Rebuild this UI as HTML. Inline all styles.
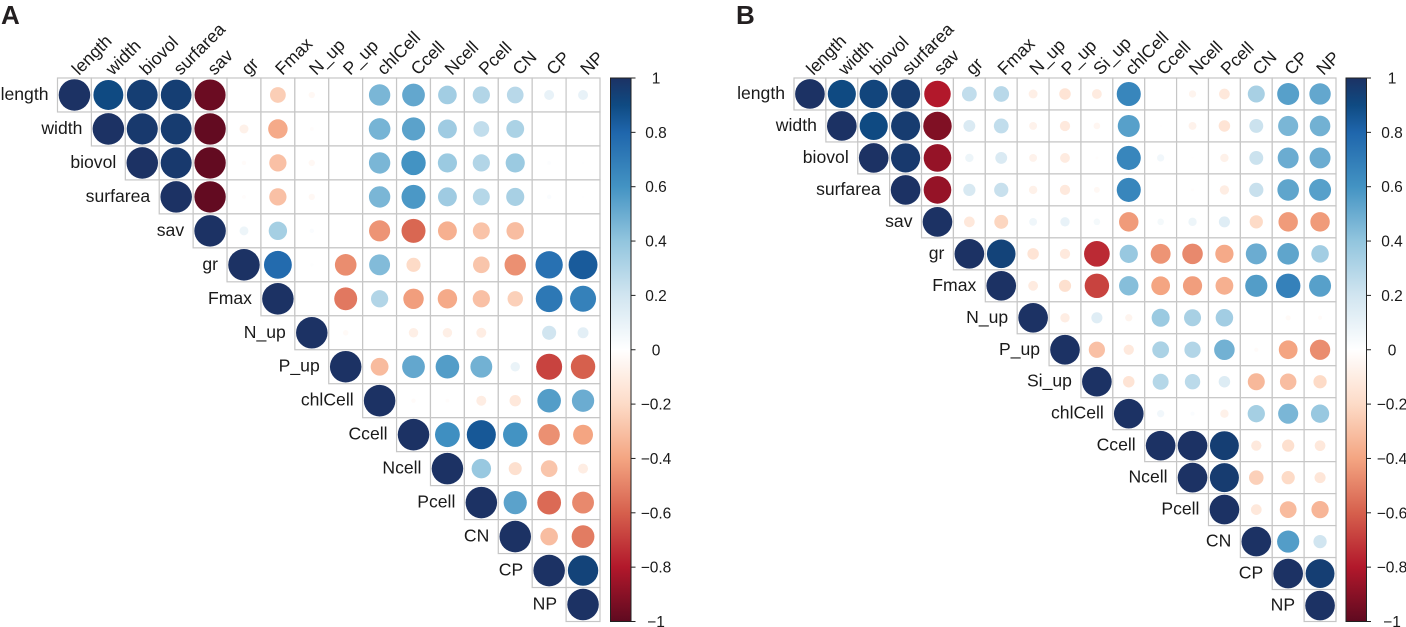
<!DOCTYPE html>
<html lang="en">
<head>
<meta charset="utf-8">
<title>Correlation matrices A and B</title>
<style>
html,body{margin:0;padding:0;background:#fff;}
body{width:1406px;height:627px;overflow:hidden;}
svg{display:block;font-family:"Liberation Sans",Arial,sans-serif;}
</style>
</head>
<body>
<svg id="chart" width="1406" height="627" viewBox="0 0 1406 627" xmlns="http://www.w3.org/2000/svg">
  <defs>
    <linearGradient id="rdbu" x1="0" y1="0" x2="0" y2="1">
      <stop offset="0" stop-color="#1c3264"/>
      <stop offset="0.05" stop-color="#0f4a82"/>
      <stop offset="0.1" stop-color="#1f66ac"/>
      <stop offset="0.2" stop-color="#4393c3"/>
      <stop offset="0.3" stop-color="#92c5de"/>
      <stop offset="0.4" stop-color="#d1e5f0"/>
      <stop offset="0.5" stop-color="#ffffff"/>
      <stop offset="0.6" stop-color="#fddbc7"/>
      <stop offset="0.7" stop-color="#f4a582"/>
      <stop offset="0.8" stop-color="#d6604d"/>
      <stop offset="0.9" stop-color="#b2182b"/>
      <stop offset="1" stop-color="#5f0a20"/>
    </linearGradient>
  </defs>
  <text x="1" y="24" font-size="26" font-weight="bold" fill="#231f20">A</text>
  <text x="736" y="24" font-size="26" font-weight="bold" fill="#231f20">B</text>
</svg>
<script>
const labelsA = ["length","width","biovol","surfarea","sav","gr","Fmax","N_up","P_up","chlCell","Ccell","Ncell","Pcell","CN","CP","NP"];
const valuesA = [
  [1,.9,.95,.95,-.97,0,-.25,-.04,0,.46,.52,.35,.3,.28,.1,.1],
  [1,.97,.96,-.99,-.08,-.38,-.015,0,.47,.54,.36,.25,.32,0,0],
  [1,.97,-.99,-.02,-.3,-.04,0,.46,.6,.37,.3,.37,.015,.005],
  [1,-.99,-.015,-.3,-.04,0,.46,.58,.36,.29,.33,.02,.005],
  [1,.08,.34,.02,0,-.45,-.58,-.36,-.29,-.31,0,.003],
  [1,.78,.01,-.47,.44,-.2,0,-.28,-.46,.75,.84],
  [1,0,-.53,.3,-.42,-.38,-.3,-.24,.72,.68],
  [1,-.03,0,-.09,-.09,-.1,0,.2,.12],
  [1,-.32,.52,.56,.48,.09,-.68,-.6],
  [1,-.02,-.015,-.1,-.13,.56,.5],
  [1,.62,.85,.6,-.46,-.4],
  [1,.38,-.17,-.28,-.1],
  [1,.54,-.57,-.48],
  [1,-.31,-.52],
  [1,.93],
  [1]
];
const labelsB = ["length","width","biovol","surfarea","sav","gr","Fmax","N_up","P_up","Si_up","chlCell","Ccell","Ncell","Pcell","CN","CP","NP"];
const valuesB = [
  [1,.9,.92,.96,-.8,.25,.28,-.09,-.15,-.11,.66,0,-.06,-.13,.33,.55,.52],
  [1,.9,.96,-.92,.16,.25,-.07,-.12,-.05,.55,-.005,-.07,-.15,.22,.46,.48],
  [1,.97,-.87,.08,.16,-.07,-.11,-.01,.66,.06,-.005,-.08,.22,.5,.5],
  [1,-.87,.17,.23,-.08,-.12,-.04,.66,0,-.01,-.1,.23,.53,.55],
  [1,-.13,-.22,.07,.1,.05,-.43,.05,.08,.14,-.2,-.43,-.43],
  [1,.93,-.15,-.12,-.75,.38,-.45,-.48,-.38,.5,.53,.35],
  [1,-.11,-.17,-.68,.43,-.4,-.42,-.36,.56,.68,.55],
  [1,-.1,.14,-.06,.37,.33,.35,0,-.03,-.02],
  [1,-.3,-.12,.32,.3,.48,-.02,-.4,-.47],
  [1,-.15,.29,.27,.15,-.33,-.31,-.2],
  [1,.06,.02,-.08,.34,.46,.38],
  [1,1,.95,-.12,-.17,-.13],
  [1,.96,-.24,-.2,-.14],
  [1,-.13,-.32,-.34],
  [1,.56,.2],
  [1,.95],
  [1]
];
const legendTicks = [1,.8,.6,.4,.2,0,-.2,-.4,-.6,-.8,-1];
const legendTickLabels = ["1","0.8","0.6","0.4","0.2","0","\u22120.2","\u22120.4","\u22120.6","\u22120.8","\u22121"];

const NS = "http://www.w3.org/2000/svg";
const svg = document.getElementById("chart");
const TOP = 78, BOTTOM = 621.5;
const colorStops = [
  [-1,"#5f0a20"],[-.8,"#b2182b"],[-.6,"#d6604d"],[-.4,"#f4a582"],[-.2,"#fddbc7"],[0,"#ffffff"],
  [.2,"#d1e5f0"],[.4,"#92c5de"],[.6,"#4393c3"],[.8,"#1f66ac"],[.9,"#0f4a82"],[1,"#1c3264"]
];
function hexRgb(h){return [1,3,5].map(i=>parseInt(h.substr(i,2),16));}
function colorScale(v){
  for(let i=1;i<colorStops.length;i++){
    if(v<=colorStops[i][0]){
      const a=colorStops[i-1],b=colorStops[i],t=(v-a[0])/(b[0]-a[0]);
      const ca=hexRgb(a[1]),cb=hexRgb(b[1]);
      return "rgb("+ca.map((c,k)=>Math.round(c+(cb[k]-c)*t)).join(",")+")";
    }
  }
  return colorStops[colorStops.length-1][1];
}
function make(tag,attrs,parent){
  const el=document.createElementNS(NS,tag);
  for(const k in attrs){el.setAttribute(k,attrs[k]);}
  parent.appendChild(el);
  return el;
}
function drawMatrix(panel,labels,values,left,right,labelDx){
  const n=labels.length;
  const cell=(right-left)/n, cellH=(BOTTOM-TOP)/n;
  const xPos=j=>left+j*cell;
  const yPos=i=>TOP+i*cellH;
  const radius=v=>0.465*cell*Math.sqrt(Math.abs(v));
  const g=make("g",{},svg);
  
  
  values.forEach((row,i)=>{
    row.forEach((v,k)=>{
      const j=i+k;
      const rect=make("rect",{x:xPos(j),y:yPos(i),width:cell,height:cellH,fill:"#fff",stroke:"#c6c6c6","stroke-width":1.2},g);
      
      
    });
  });
  values.forEach((row,i)=>{
    row.forEach((v,k)=>{
      const j=i+k;
      const c=make("circle",{cx:xPos(j)+cell/2,cy:yPos(i)+cellH/2,r:radius(v),fill:colorScale(v)},g);
      
      
    });
  });
  labels.forEach((name,i)=>{
    const rowLabel=make("text",{x:xPos(i)-9,y:yPos(i)+cellH/2+5,"text-anchor":"end","font-size":17.6,fill:"#1a1a1a"},g);
    rowLabel.textContent=name;
    
    
    const bx=xPos(i)+cell/2+labelDx, by=TOP-2;
    const colLabel=make("text",{x:bx,y:by,transform:"rotate(-45 "+bx+" "+by+")","font-size":17.6,fill:"#1a1a1a"},g);
    colLabel.textContent=name;
    
    
  });
}
function drawLegend(panel,x0,x1,labelX){
  const barY=v=>TOP+(1-v)/2*(BOTTOM-TOP);
  const g=make("g",{},svg);
  
  
  const bar=make("rect",{x:x0,y:barY(1),width:x1-x0,height:barY(-1)-barY(1),fill:"url(#rdbu)",stroke:"#222","stroke-width":1},g);
  
  
  legendTicks.forEach((t,i)=>{
    const tick=make("line",{x1:x1,x2:x1+4.5,y1:barY(t),y2:barY(t),stroke:"#222","stroke-width":1},g);
    
    
    const lab=make("text",{x:labelX,y:barY(t)+5.5,"text-anchor":"middle","font-size":15.5,fill:"#1a1a1a"},g);
    lab.textContent=legendTickLabels[i];
    
    
  });
}
drawMatrix("panel-a",labelsA,valuesA,57.5,600,4.5);
drawLegend("panel-a",610.5,631,656);
drawMatrix("panel-b",labelsB,valuesB,794,1336,3.5);
drawLegend("panel-b",1346,1366.5,1392);
</script>
</body>
</html>
